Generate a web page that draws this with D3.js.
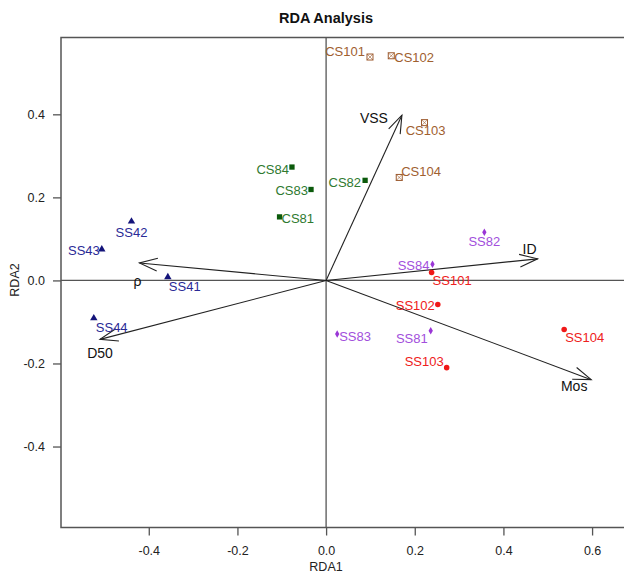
<!DOCTYPE html>
<html>
<head>
<meta charset="utf-8">
<script src="https://cdn.jsdelivr.net/npm/d3@7/dist/d3.min.js"></script>
<style>
  body { margin: 0; background: #fff; }
  svg { font-family: "Liberation Sans", Arial, sans-serif; }
</style>
</head>
<body>
<script>
// site scores
const siteNames = ['SS41', 'SS42', 'SS43', 'SS44',
                   'CS81', 'CS82', 'CS83', 'CS84',
                   'CS101', 'CS102', 'CS103', 'CS104',
                   'SS81', 'SS82', 'SS83', 'SS84',
                   'SS101', 'SS102', 'SS103', 'SS104'];
const siteGroup = ['SS4', 'SS4', 'SS4', 'SS4',
                   'CS8', 'CS8', 'CS8', 'CS8',
                   'CS10', 'CS10', 'CS10', 'CS10',
                   'SS8', 'SS8', 'SS8', 'SS8',
                   'SS10', 'SS10', 'SS10', 'SS10'];
const siteRDA1 = [-0.357, -0.439, -0.506, -0.524,
                  -0.105, 0.088, -0.034, -0.077,
                  0.099, 0.147, 0.222, 0.165,
                  0.236, 0.357, 0.025, 0.240,
                  0.238, 0.252, 0.272, 0.537];
const siteRDA2 = [0.008, 0.142, 0.075, -0.091,
                  0.153, 0.241, 0.219, 0.273,
                  0.538, 0.541, 0.380, 0.248,
                  -0.121, 0.116, -0.129, 0.039,
                  0.019, -0.058, -0.210, -0.118];

// environmental arrows
const envNames = ['VSS', 'ID', 'Mos', 'ρ', 'D50'];
const envRDA1 = [0.171, 0.477, 0.598, -0.421, -0.510];
const envRDA2 = [0.398, 0.052, -0.239, 0.042, -0.142];

const xTicks = [-0.4, -0.2, 0.0, 0.2, 0.4, 0.6];
const yTicks = [-0.4, -0.2, 0.0, 0.2, 0.4];

// styling per group
const groupStyle = {
  SS4:  {shape: 'triangle', fill: '#14147a', text: '#2a2a96'},
  CS8:  {shape: 'square',   fill: '#0b5a0b', text: '#2f7a2f'},
  CS10: {shape: 'boxx',     fill: '#9c5a2e', text: '#a0602f'},
  SS8:  {shape: 'diamond',  fill: '#9a36d6', text: '#a24fdc'},
  SS10: {shape: 'circle',   fill: '#f01818', text: '#ee2020'}
};

// label placement [anchor, dx, dy] in px
const labelPlace = {
  SS42: ['middle', 0, 11], SS43: ['end', -2, 1], SS41: ['start', 1, 9], SS44: ['start', 2, 9],
  CS84: ['end', -3, 2], CS83: ['end', -3, 1], CS81: ['start', 2, 2], CS82: ['end', -4, 2],
  CS101: ['end', -5, -6], CS102: ['start', 3, 2], CS103: ['middle', 1, 8], CS104: ['start', 2, -6],
  SS82: ['middle', 0, 9], SS84: ['end', -3, 1], SS101: ['start', 1, 8], SS102: ['end', -3, 1],
  SS83: ['start', 2, 2], SS81: ['end', -3, 8], SS104: ['start', 1, 8], SS103: ['end', -3, -6]
};
const envLabelPlace = {
  'VSS': [-28, 3], 'ID': [-8, -10], 'Mos': [-17, 6], 'ρ': [-2, 18], 'D50': [0, 14]
};

const width = 624, height = 577;
const mLeft = 61, mRight = 624, mTop = 37.5, mBottom = 527.5;

const svg = d3.select('body').append('svg')
    .attr('width', width).attr('height', height);

const x = d3.scaleLinear().domain([-0.598, 0.672]).range([mLeft, mRight]);
const y = d3.scaleLinear().domain([-0.595, 0.585]).range([mBottom, mTop]);

const fmt = v => d3.format('.1f')(v).replace('−', '-');

// frame
svg.append('rect')
    .attr('x', mLeft).attr('y', mTop)
    .attr('width', mRight - mLeft + 2).attr('height', mBottom - mTop)
    .attr('fill', 'none').attr('stroke', '#555').attr('stroke-width', 1.5);

// axes
const xAxis = svg.append('g')
    .attr('transform', `translate(0,${mBottom})`)
    .call(d3.axisBottom(x).tickValues(xTicks).tickFormat(fmt).tickSize(8).tickSizeOuter(0).tickPadding(11));
const yAxis = svg.append('g')
    .attr('transform', `translate(${mLeft},0)`)
    .call(d3.axisLeft(y).tickValues(yTicks).tickFormat(fmt).tickSize(8).tickSizeOuter(0).tickPadding(8));
[xAxis, yAxis].forEach(a => {
  a.select('.domain').remove();
  a.selectAll('.tick line').attr('stroke', '#555').attr('stroke-width', 1.3);
  a.selectAll('.tick text').attr('font-size', 12.5).attr('fill', '#222')
      .attr('font-family', '"Liberation Sans", Arial, sans-serif');
});

// zero lines
svg.append('line')
    .attr('x1', x(0)).attr('x2', x(0)).attr('y1', mTop).attr('y2', mBottom)
    .attr('stroke', '#555').attr('stroke-width', 1.3);
svg.append('line')
    .attr('x1', mLeft).attr('x2', mRight).attr('y1', y(0)).attr('y2', y(0))
    .attr('stroke', '#555').attr('stroke-width', 1.3);

// titles
svg.append('text').attr('x', 326).attr('y', 23)
    .attr('text-anchor', 'middle').attr('font-size', 14.5).attr('font-weight', 'bold')
    .attr('fill', '#111').text('RDA Analysis');
svg.append('text').attr('x', 326).attr('y', 571)
    .attr('text-anchor', 'middle').attr('font-size', 12.5).attr('fill', '#222').text('RDA1');
svg.append('text').attr('transform', 'translate(19,280) rotate(-90)')
    .attr('text-anchor', 'middle').attr('font-size', 12.5).attr('fill', '#222').text('RDA2');

// arrows
const env = envNames.map((n, i) => ({name: n, x: envRDA1[i], y: envRDA2[i]}));
const arrows = svg.append('g').attr('stroke', '#222').attr('stroke-width', 1.1).attr('fill', 'none');
env.forEach(d => {
  const x0 = x(0), y0 = y(0), x1 = x(d.x), y1 = y(d.y);
  const ang = Math.atan2(y1 - y0, x1 - x0);
  const len = 19, spread = 0.34;
  arrows.append('line').attr('x1', x0).attr('y1', y0).attr('x2', x1).attr('y2', y1);
  arrows.append('path').attr('d',
    `M${x1 - len * Math.cos(ang - spread)},${y1 - len * Math.sin(ang - spread)}` +
    `L${x1},${y1}` +
    `L${x1 - len * Math.cos(ang + spread)},${y1 - len * Math.sin(ang + spread)}`);
});
svg.selectAll('text.env').data(env).enter().append('text')
    .attr('class', 'env')
    .attr('x', d => x(d.x) + envLabelPlace[d.name][0])
    .attr('y', d => y(d.y) + envLabelPlace[d.name][1])
    .attr('dy', '0.35em')
    .attr('text-anchor', 'middle').attr('font-size', 14).attr('fill', '#111')
    .text(d => d.name);

// sites
const sites = siteNames.map((n, i) => ({name: n, group: siteGroup[i], x: siteRDA1[i], y: siteRDA2[i]}));
const sym = {
  triangle: d3.symbol().type(d3.symbolTriangle).size(24),
  square: d3.symbol().type(d3.symbolSquare).size(28),
  diamond: d3.symbol().type(d3.symbolDiamond).size(16),
  circle: d3.symbol().type(d3.symbolCircle).size(24)
};
const pts = svg.selectAll('g.site').data(sites).enter().append('g')
    .attr('class', 'site')
    .attr('transform', d => `translate(${x(d.x)},${y(d.y)})`);
pts.each(function(d) {
  const g = d3.select(this), st = groupStyle[d.group];
  if (st.shape === 'boxx') {
    g.append('rect').attr('x', -3).attr('y', -3).attr('width', 6).attr('height', 6)
        .attr('fill', 'none').attr('stroke', st.fill).attr('stroke-width', 1);
    g.append('path').attr('d', 'M-3,-3L3,3M3,-3L-3,3')
        .attr('stroke', st.fill).attr('stroke-width', 0.6);
  } else {
    g.append('path').attr('d', sym[st.shape]()).attr('fill', st.fill);
  }
});
svg.selectAll('text.site').data(sites).enter().append('text')
    .attr('class', 'site')
    .attr('x', d => x(d.x) + labelPlace[d.name][1])
    .attr('y', d => y(d.y) + labelPlace[d.name][2])
    .attr('dy', '0.35em')
    .attr('text-anchor', d => labelPlace[d.name][0])
    .attr('font-size', 13).attr('fill', d => groupStyle[d.group].text)
    .text(d => d.name);
</script>
</body>
</html>
